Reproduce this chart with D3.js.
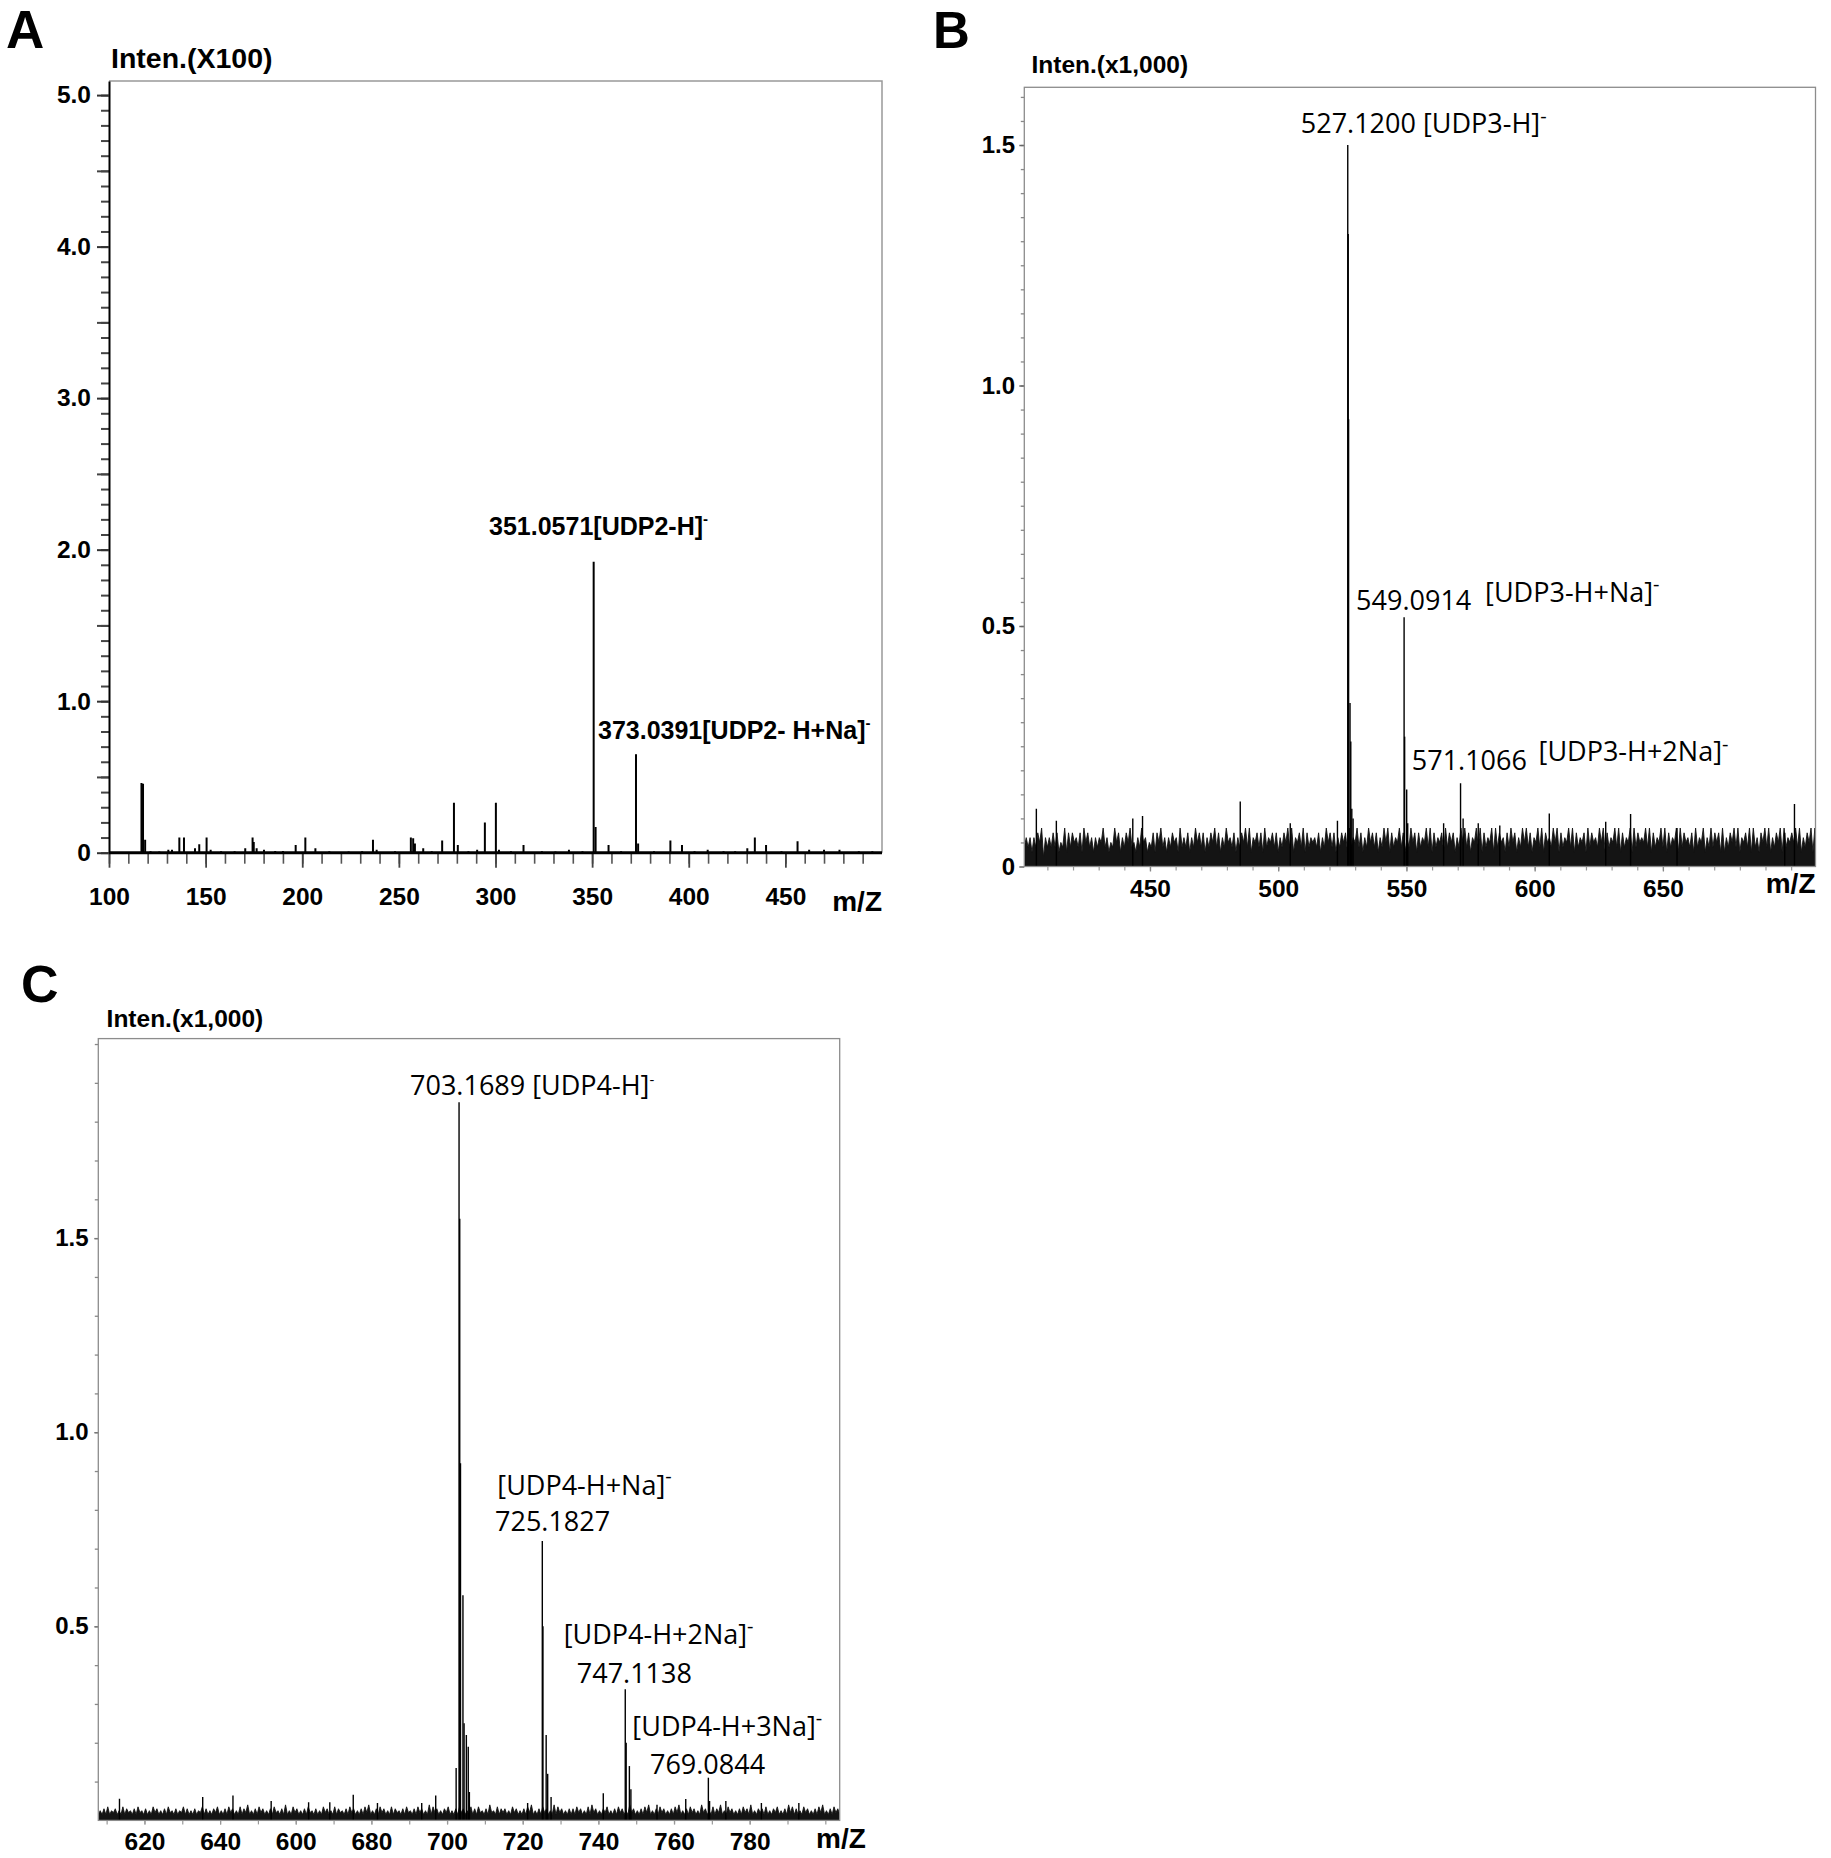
<!DOCTYPE html>
<html>
<head>
<meta charset="utf-8">
<script src="https://cdn.jsdelivr.net/npm/d3@7"></script>
<style>
  body { margin: 0; background: #fff; }
</style>
</head>
<body>
<svg id="fig" width="1831" height="1858"></svg>
<script>
// ---- panel A: centroid spectrum, [m/z, intensity (x100)] ----
const peaksA = [
  [116.8, 0.46], [117.6, 0.455], [118.7, 0.085], [121.5, 0.01], [126, 0.008], [130.7, 0.02],
  [132.6, 0.02], [136.4, 0.10], [138.8, 0.10], [144.5, 0.03], [146.7, 0.055], [150.5, 0.10],
  [152.6, 0.02], [158, 0.01], [165, 0.01], [170.5, 0.03], [174.3, 0.10], [174.9, 0.07],
  [176.4, 0.03], [180.2, 0.02], [186, 0.012], [190, 0.012], [196.6, 0.05], [201.6, 0.10],
  [206.8, 0.03], [214, 0.01], [224, 0.008], [231, 0.01], [236.6, 0.085], [238.5, 0.02],
  [248, 0.01], [256.2, 0.10], [257.4, 0.095], [258.3, 0.06], [262.6, 0.03], [267, 0.01],
  [272.4, 0.08], [278.5, 0.33], [280.5, 0.05], [286, 0.01], [290.5, 0.02], [294.5, 0.20],
  [300.2, 0.33], [301.8, 0.02], [308, 0.01], [314.5, 0.05], [324, 0.01], [331, 0.008],
  [338, 0.02], [345, 0.01], [350.8, 1.92], [351.8, 0.17], [358.5, 0.05], [365, 0.01],
  [372.7, 0.65], [373.8, 0.06], [382, 0.01], [390.5, 0.08], [396.5, 0.05], [403, 0.01],
  [409.8, 0.02], [418, 0.01], [424, 0.01], [430.3, 0.03], [434.2, 0.10], [440, 0.05],
  [448, 0.01], [456.3, 0.075], [462.3, 0.02], [470, 0.02], [478, 0.02], [488, 0.01], [495, 0.01]
];
const xTicksA = [100, 150, 200, 250, 300, 350, 400, 450];
const yTicksA = [0, 1, 2, 3, 4, 5];
const labelsA = ['351.0571[UDP2-H]', '373.0391[UDP2- H+Na]'];

// ---- panel B: profile spectrum, intensity (x1,000) ----
const peaksB = [
  [405.7, 0.12], [413.5, 0.095], [443.3, 0.10], [447.1, 0.105], [485.2, 0.135], [504.7, 0.09],
  [523.1, 0.095], [527.12, 1.50], [527.3, 1.315], [527.45, 0.93], [528.0, 0.34], [528.3, 0.26],
  [528.7, 0.12], [529.2, 0.10], [549.09, 0.518], [549.3, 0.27], [550.1, 0.16], [550.5, 0.09],
  [564.5, 0.09], [571.1, 0.173], [572.1, 0.10], [578, 0.09], [586.4, 0.085], [605.7, 0.11],
  [627.7, 0.093], [637.4, 0.109], [655.5, 0.08], [697.5, 0.07], [701.3, 0.13]
];
// baseline noise, one char per 0.75 m/z from 401, base-36 digits x 0.01
const noiseB = [
  '46463647582646474735483747564738574636465846354857',
  '36475845364856354737584636475638464736485747364758',
  '47364856473647584836574738465747364758483657483746',
  '56473648574736475738465847364857473648583746584736',
  '48573746584837465738475736485847365848374658384756',
  '37485736485847365848375648583746584837465738475648',
  '58374658483746583847565848374658483746583847564738',
  '46583648475738364758483657483846375848364758384657',
  '58483647583846574738365748583647584836475738465748'
].join('');
const xTicksB = [450, 500, 550, 600, 650];
const yTicksB = [0, 0.5, 1.0, 1.5];

// ---- panel C: profile spectrum, intensity (x1,000) ----
const peaksC = [
  [613.4, 0.056], [635.4, 0.06], [643.4, 0.064], [653.5, 0.05], [663.4, 0.047], [669, 0.047],
  [675.2, 0.066], [681.6, 0.045], [693.3, 0.045], [697, 0.064], [702.4, 0.135], [703.17, 1.85],
  [703.35, 1.55], [703.55, 0.92], [704.2, 0.58], [704.5, 0.25], [705.1, 0.22], [705.6, 0.19],
  [705.9, 0.073], [721.3, 0.045], [725.18, 0.72], [725.35, 0.50], [726.2, 0.22], [726.6, 0.12],
  [727.5, 0.06], [741.3, 0.07], [747.11, 0.338], [747.35, 0.20], [748.2, 0.14], [748.6, 0.08],
  [755.5, 0.04], [763.1, 0.055], [769.08, 0.11], [769.4, 0.05], [773.7, 0.05], [783.1, 0.045],
  [793, 0.045]
];
// one char per 0.5 m/z from 607.8, base-36 digits x 0.005
const noiseC = [
  '35363735463537364536374536353746353637453635473635',
  '36354736353647353637463537364835363746353637453638',
  '35374635363745363537463537364536374635363748353637',
  '46353736453637453637463538374635364735363746353736',
  '37453638453736463537463536374835363746353837463536',
  '36374635373846353647353637463538463536374835363746',
  '35363748353637463538463537364835374635363746383536',
  '46373536473536384736353746353637483536374635373846'
].join('');
const xTicksC = [620, 640, 660, 680, 700, 720, 740, 760, 780];
const xTickLabelsC = ['620', '640', '600', '680', '700', '720', '740', '760', '780'];
const yTicksC = [0.5, 1.0, 1.5];

const svg = d3.select('#fig');
const defs = svg.append('defs');

const xA = d3.scaleLinear().domain([100, 500]).range([109, 882]);
const yA = d3.scaleLinear().domain([0, 5.093]).range([852.7, 81]);
const xB = d3.scaleLinear().domain([401, 709.5]).range([1024.3, 1815.5]);
const yB = d3.scaleLinear().domain([0, 1.62]).range([866.5, 87.3]);
const xC = d3.scaleLinear().domain([607.8, 803.8]).range([98.3, 839.7]);
const yC = d3.scaleLinear().domain([0, 2.014]).range([1820.4, 1038.6]);

const tickFont = '"Liberation Sans", Arial, sans-serif';
const labelFont = '"Open Sans", "Noto Sans", sans-serif';

function addClip(id, x, y) {
  defs.append('clipPath').attr('id', id)
    .append('rect')
    .attr('x', x.range()[0]).attr('y', y.range()[1])
    .attr('width', x.range()[1] - x.range()[0])
    .attr('height', y.range()[0] - y.range()[1]);
}

function noisePoints(str, start, step, unit) {
  return str.split('').map((ch, i) => [start + i * step, parseInt(ch, 36) * unit]);
}

function drawNoise(g, pts, x, y, clipId) {
  const area = d3.area()
    .x(d => x(d[0]))
    .y0(y(0))
    .y1(d => y(d[1]));
  g.append('path')
    .datum(pts)
    .attr('d', area)
    .attr('fill', '#141414')
    .attr('stroke', '#141414')
    .attr('stroke-width', 0.9)
    .attr('clip-path', `url(#${clipId})`);
}

function drawSticks(g, peaks, x, y, width, clipId) {
  g.append('g')
    .attr('clip-path', `url(#${clipId})`)
    .selectAll('line')
    .data(peaks)
    .join('line')
    .attr('x1', d => x(d[0]))
    .attr('x2', d => x(d[0]))
    .attr('y1', y(0))
    .attr('y2', d => y(d[1]))
    .attr('stroke', '#000')
    .attr('stroke-width', width);
}

// text with an optional raised charge sign at the end
function addLabel(g, x, y, text, sup, opts) {
  const t = g.append('text')
    .attr('x', x)
    .attr('y', y)
    .attr('font-family', opts.family)
    .attr('font-size', opts.size)
    .attr('font-weight', opts.weight || 'normal')
    .attr('fill', '#000');
  t.append('tspan').text(text);
  if (sup) {
    t.append('tspan')
      .attr('font-size', sup.size)
      .attr('dy', sup.dy)
      .text('-');
  }
}

function styleAxis(sel, color, width) {
  sel.attr('font-family', tickFont);
  sel.selectAll('.tick line').attr('stroke', color).attr('stroke-width', width);
  sel.selectAll('.tick text')
    .attr('font-family', tickFont)
    .attr('font-weight', 'bold')
    .attr('fill', '#000');
}

function boldText(g, x, y, size, str, anchor) {
  g.append('text').attr('x', x).attr('y', y)
    .attr('text-anchor', anchor || 'start')
    .attr('font-family', tickFont).attr('font-size', size).attr('font-weight', 'bold')
    .attr('fill', '#000')
    .text(str);
}

// ================= Panel A =================
const gA = svg.append('g');
addClip('clipA', xA, yA);

boldText(gA, 6, 47.5, 53, 'A');
boldText(gA, 111, 67.5, 28.5, 'Inten.(X100)');

// top and right frame
gA.append('path')
  .attr('d', `M${xA.range()[0]},${yA.range()[1]}H${xA.range()[1]}V${yA.range()[0]}`)
  .attr('fill', 'none').attr('stroke', '#999').attr('stroke-width', 1.5);

// y minor / half / major ticks
gA.append('g')
  .attr('transform', `translate(${xA.range()[0]},0)`)
  .call(d3.axisLeft(yA).tickValues(d3.range(0, 5.05, 0.1)).tickSize(8).tickFormat(''))
  .call(g => g.select('.domain').remove())
  .call(g => styleAxis(g, '#444', 2));
gA.append('g')
  .attr('transform', `translate(${xA.range()[0]},0)`)
  .call(d3.axisLeft(yA).tickValues(d3.range(0.5, 5, 1)).tickSize(12).tickFormat(''))
  .call(g => g.select('.domain').remove())
  .call(g => styleAxis(g, '#444', 2));
gA.append('g')
  .attr('transform', `translate(${xA.range()[0]},0)`)
  .call(d3.axisLeft(yA).tickValues(yTicksA).tickSize(12).tickSizeOuter(0).tickPadding(6)
    .tickFormat(d => d === 0 ? '0' : d.toFixed(1)))
  .call(g => g.select('.domain').attr('stroke', '#000').attr('stroke-width', 2))
  .call(g => styleAxis(g, '#333', 2))
  .call(g => g.selectAll('.tick text').attr('font-size', 24.5));

// x minor / major ticks
gA.append('g')
  .attr('transform', `translate(0,${yA.range()[0]})`)
  .call(d3.axisBottom(xA).tickValues(d3.range(100, 500, 10)).tickSize(11).tickFormat(''))
  .call(g => g.select('.domain').remove())
  .call(g => styleAxis(g, '#555', 1.6));
gA.append('g')
  .attr('transform', `translate(0,${yA.range()[0]})`)
  .call(d3.axisBottom(xA).tickValues(xTicksA).tickSize(15).tickSizeOuter(0))
  .call(g => g.select('.domain').remove())
  .call(g => styleAxis(g, '#444', 1.8))
  .call(g => g.selectAll('.tick text').attr('font-size', 24.5).attr('y', 52.3).attr('dy', 0));

boldText(gA, xA.range()[1], 911, 28, 'm/Z', 'end');

drawSticks(gA, peaksA, xA, yA, 2, 'clipA');
// thick baseline
gA.append('line')
  .attr('x1', xA.range()[0]).attr('x2', xA.range()[1])
  .attr('y1', yA(0)).attr('y2', yA(0))
  .attr('stroke', '#000').attr('stroke-width', 3);

const boldA = { family: tickFont, size: 25, weight: 'bold' };
addLabel(gA, xA(350.8) - 104.6, yA(1.92) - 26.6, labelsA[0], { size: 15, dy: -11 }, boldA);
addLabel(gA, xA(372.7) - 38, yA(0.65) - 15.2, labelsA[1], { size: 15, dy: -11 }, boldA);

// ================= Panel B =================
const gB = svg.append('g');
addClip('clipB', xB, yB);

boldText(gB, 933, 47.5, 51, 'B');
boldText(gB, 1031.5, 73.4, 24.5, 'Inten.(x1,000)');

gB.append('g')
  .attr('transform', `translate(${xB.range()[0]},0)`)
  .call(d3.axisLeft(yB).tickValues(d3.range(0.05, 1.62, 0.05)).tickSize(3.5).tickFormat(''))
  .call(g => g.select('.domain').remove())
  .call(g => styleAxis(g, '#888', 1.3));
gB.append('g')
  .attr('transform', `translate(${xB.range()[0]},0)`)
  .call(d3.axisLeft(yB).tickValues(yTicksB).tickSize(5).tickSizeOuter(0).tickPadding(4.3)
    .tickFormat(d => d === 0 ? '0' : d.toFixed(1)))
  .call(g => g.select('.domain').remove())
  .call(g => styleAxis(g, '#666', 1.5))
  .call(g => g.selectAll('.tick text').attr('font-size', 24));

gB.append('g')
  .attr('transform', `translate(0,${yB.range()[0]})`)
  .call(d3.axisBottom(xB).tickValues(d3.range(410, 710, 10)).tickSize(4).tickFormat(''))
  .call(g => g.select('.domain').remove())
  .call(g => styleAxis(g, '#999', 1.2));
gB.append('g')
  .attr('transform', `translate(0,${yB.range()[0]})`)
  .call(d3.axisBottom(xB).tickValues(xTicksB).tickSize(5).tickSizeOuter(0))
  .call(g => g.select('.domain').remove())
  .call(g => styleAxis(g, '#888', 1.3))
  .call(g => g.selectAll('.tick text').attr('font-size', 24.5).attr('y', 30).attr('dy', 0));

boldText(gB, xB.range()[1], 893, 28, 'm/Z', 'end');

drawNoise(gB, noisePoints(noiseB, 401, 0.75, 0.01), xB, yB, 'clipB');
drawSticks(gB, peaksB, xB, yB, 1.4, 'clipB');

gB.append('rect')
  .attr('x', xB.range()[0]).attr('y', yB.range()[1])
  .attr('width', xB.range()[1] - xB.range()[0]).attr('height', yB.range()[0] - yB.range()[1])
  .attr('fill', 'none').attr('stroke', '#8c8c8c').attr('stroke-width', 1.3);

const regB = { family: labelFont, size: 27 };
const supB = { size: 20, dy: -10.5 };
addLabel(gB, xB(527.12) - 47, yB(1.5) - 12, '527.1200 [UDP3-H]', supB, regB);
addLabel(gB, xB(549.09) - 48, yB(0.518) - 7.3, '549.0914', null, regB);
addLabel(gB, xB(549.09) + 81, yB(0.518) - 15.7, '[UDP3-H+Na]', supB, regB);
addLabel(gB, xB(571.1) - 48.8, yB(0.173) - 13.5, '571.1066', null, regB);
addLabel(gB, xB(571.1) + 78, yB(0.173) - 21.8, '[UDP3-H+2Na]', supB, regB);

// ================= Panel C =================
const gC = svg.append('g');
addClip('clipC', xC, yC);

boldText(gC, 21, 1002, 52, 'C');
boldText(gC, 106.6, 1026.8, 24.5, 'Inten.(x1,000)');

gC.append('g')
  .attr('transform', `translate(${xC.range()[0]},0)`)
  .call(d3.axisLeft(yC).tickValues(d3.range(0.1, 2.05, 0.1)).tickSize(3.5).tickFormat(''))
  .call(g => g.select('.domain').remove())
  .call(g => styleAxis(g, '#888', 1.3));
gC.append('g')
  .attr('transform', `translate(${xC.range()[0]},0)`)
  .call(d3.axisLeft(yC).tickValues(yTicksC).tickSize(4).tickSizeOuter(0).tickPadding(5.8)
    .tickFormat(d => d.toFixed(1)))
  .call(g => g.select('.domain').remove())
  .call(g => styleAxis(g, '#777', 1.4))
  .call(g => g.selectAll('.tick text').attr('font-size', 24));

gC.append('g')
  .attr('transform', `translate(0,${yC.range()[0]})`)
  .call(d3.axisBottom(xC).tickValues(d3.range(610, 804, 10)).tickSize(4).tickFormat(''))
  .call(g => g.select('.domain').remove())
  .call(g => styleAxis(g, '#999', 1.2));
gC.append('g')
  .attr('transform', `translate(0,${yC.range()[0]})`)
  .call(d3.axisBottom(xC).tickValues(xTicksC).tickSize(4).tickSizeOuter(0)
    .tickFormat((d, i) => xTickLabelsC[i]))
  .call(g => g.select('.domain').remove())
  .call(g => styleAxis(g, '#999', 1.2))
  .call(g => g.selectAll('.tick text').attr('font-size', 24.5).attr('y', 29.6).attr('dy', 0));

boldText(gC, 816, 1848, 28, 'm/Z');

drawNoise(gC, noisePoints(noiseC, 607.8, 0.5, 0.005), xC, yC, 'clipC');
drawSticks(gC, peaksC, xC, yC, 1.4, 'clipC');

gC.append('rect')
  .attr('x', xC.range()[0]).attr('y', yC.range()[1])
  .attr('width', xC.range()[1] - xC.range()[0]).attr('height', yC.range()[0] - yC.range()[1])
  .attr('fill', 'none').attr('stroke', '#8c8c8c').attr('stroke-width', 1.3);

const regC = { family: labelFont, size: 27 };
const supC = { size: 20, dy: -11.5 };
addLabel(gC, xC(703.17) - 49, yC(1.85) - 7.7, '703.1689 [UDP4-H]', { size: 15, dy: -10 }, regC);
addLabel(gC, xC(725.18) - 45, yC(0.72) - 46, '[UDP4-H+Na]', supC, regC);
addLabel(gC, xC(725.18) - 47.3, yC(0.72) - 10, '725.1827', null, regC);
addLabel(gC, xC(747.11) - 61.6, yC(0.338) - 45, '[UDP4-H+2Na]', supC, regC);
addLabel(gC, xC(747.11) - 48.5, yC(0.338) - 6.2, '747.1138', null, regC);
addLabel(gC, xC(769.08) - 76, yC(0.11) - 41.5, '[UDP4-H+3Na]', supC, regC);
addLabel(gC, xC(769.08) - 58.4, yC(0.11) - 3.5, '769.0844', null, regC);
</script>
</body>
</html>
